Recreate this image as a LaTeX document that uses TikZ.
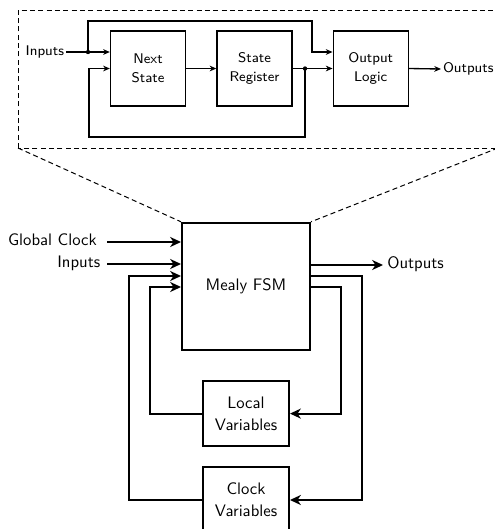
\documentclass[tikz,border=0pt]{standalone}
\usetikzlibrary{arrows.meta}
\begin{document}
\begin{tikzpicture}[x=0.6pt,y=-0.6pt,font=\sffamily,
  topbox/.style={draw,line width=0.8pt,minimum width=45pt,minimum height=45pt,inner sep=0pt,align=center,font=\sffamily\fontsize{8.4}{11.4}\selectfont},
  toptext/.style={inner sep=1pt,font=\sffamily\fontsize{8.4}{11.4}\selectfont},
  tline/.style={line width=0.8pt},
  tarrow/.style={line width=0.8pt,-{Stealth[length=4pt,width=3.4pt,inset=1.2pt]}},
  bigbox/.style={draw,line width=1.2pt,inner sep=0pt,align=center,font=\sffamily\fontsize{10}{13}\selectfont},
  barrow/.style={line width=1.2pt,-{Stealth[length=6.5pt,width=6pt,inset=2pt]}},
  bline/.style={line width=1.2pt},
  zoomline/.style={line width=0.6pt,dash pattern=on 3pt off 2pt},
  dot/.style={circle,fill,inner sep=0pt,minimum size=2.6pt}]
\clip (0,0) rectangle (495,529);
% ---------- top detail ----------
\node[topbox] (ns) at (148,68.5) {Next\\State};
\node[topbox] (sr) at (254.5,68.5) {State\\Register};
\node[topbox] (ol) at (370.7,68.5) {Output\\Logic};
\node[toptext,anchor=mid east] (tin) at (66,52) {Inputs};
\node[toptext,anchor=mid west] (tout) at (441,69) {Outputs};
\node[dot] (j1) at (88,52) {};
\node[dot] (j2) at (305,68.5) {};
\coordinate (t1) at (312,21);
\coordinate (b1) at (89,137);
\draw[tarrow] (tin.mid east) -- (tin.mid east -| ns.west);
\draw[tarrow] (j1.center) |- (t1) |- (ol.west |- j1);
\draw[tarrow] (ns.east) -- (sr.west);
\draw[tarrow] (sr.east) -- (ol.west);
\draw[tarrow] (j2.center) |- (b1) |- (ns.west);
\draw[tarrow] (ol.east) -- (tout.mid west);
% ---------- zoom frame ----------
\node[bigbox,minimum width=76.8pt,minimum height=76.2pt] (fsm) at (246,286.3) {Mealy FSM};
\coordinate (zl) at (18,148);
\coordinate (zr) at (498,148);
\draw[zoomline] (zl) -- (18,10) -- (498,10) -- (zr) -- cycle;
\draw[zoomline] (zl) -- (fsm.north west);
\draw[zoomline] (zr) -- (fsm.north east);
% ---------- lower ----------
\node[bigbox,minimum width=51.6pt,minimum height=38.6pt] (lv) at (246,413.6) {Local\\Variables};
\node[bigbox,minimum width=51.6pt,minimum height=40pt] (cv) at (246,500) {Clock\\Variables};
\node[anchor=mid east,inner sep=0pt,font=\sffamily\fontsize{10}{12}\selectfont] (gc) at (97,242) {Global Clock};
\node[anchor=mid east,inner sep=0pt,font=\sffamily\fontsize{10}{12}\selectfont] (in) at (100.5,264) {Inputs};
\node[anchor=mid west,inner sep=0pt,font=\sffamily\fontsize{10}{12}\selectfont] (out) at (387,265) {Outputs};
\coordinate (gcs) at (107,242);
\coordinate (ins) at (107,264);
\coordinate (outs) at (383,265);
\draw[barrow] (gcs) -- (gcs -| fsm.west);
\draw[barrow] (ins) -- (ins -| fsm.west);
\draw[barrow] (fsm.east |- outs) -- (outs);
\coordinate (r1) at (362,276);
\coordinate (r2) at (341,287);
\coordinate (l1) at (129,276);
\coordinate (l2) at (150,287);
\draw[barrow] (fsm.east |- r1) -- (r1) |- (cv.east);
\draw[barrow] (fsm.east |- r2) -- (r2) |- (lv.east);
\draw[barrow] (cv.west) -| (l1) -- (fsm.west |- l1);
\draw[barrow] (lv.west) -| (l2) -- (fsm.west |- l2);
\end{tikzpicture}
\end{document}
